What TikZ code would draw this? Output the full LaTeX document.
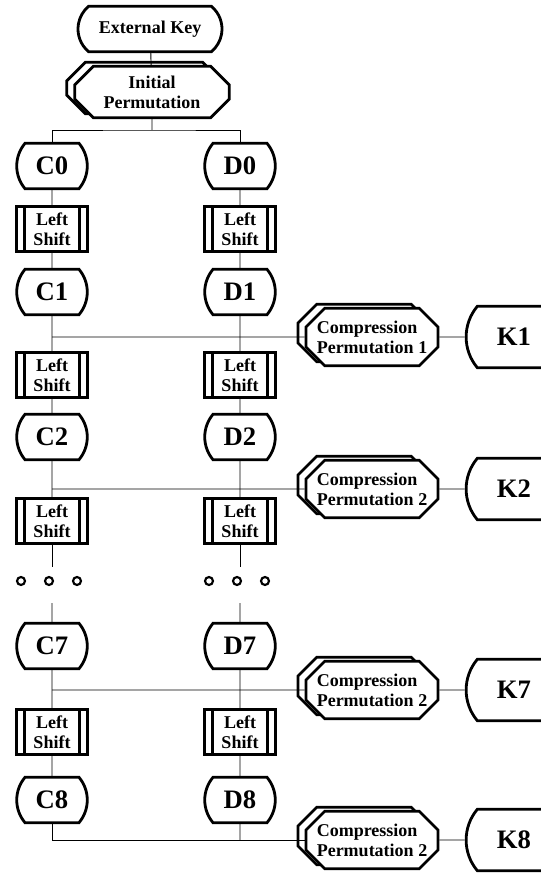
\documentclass[tikz,border=0pt]{standalone}
\usepackage{fontspec}
\setmainfont{Liberation Serif}
\usetikzlibrary{shapes.misc,positioning,calc}

\begin{document}
\begin{tikzpicture}[x=0.75pt,y=-0.75pt,line width=0.7pt]

\tikzset{termnode/.style={shape=rounded rectangle,rounded rectangle arc length=80,draw,line width=2.1pt,font=\fontsize{20}{22}\selectfont\bfseries,inner sep=0pt,minimum width=41pt,minimum height=34pt},
shiftnode/.style={shape=rectangle,draw,line width=2.1pt,font=\fontsize{13.5}{15}\selectfont\bfseries,align=center,inner sep=0pt,minimum width=53pt,minimum height=34pt,
  path picture={\draw[line width=1.9pt] ([xshift=6pt]path picture bounding box.north west) -- ([xshift=6pt]path picture bounding box.south west);
  \draw[line width=1.9pt] ([xshift=-6pt]path picture bounding box.north east) -- ([xshift=-6pt]path picture bounding box.south east);}},
permnode/.style={shape=chamfered rectangle,chamfered rectangle xsep=7pt,chamfered rectangle ysep=7pt,draw,fill=white,line width=2.1pt,font=\fontsize{13.5}{15}\selectfont\bfseries,inner sep=0pt,
  preaction={draw,line width=2.1pt,transform canvas={shift={(-6pt,3pt)}}}},
keynode/.style={termnode,minimum width=57pt,minimum height=46pt},
dotnode/.style={shape=circle,draw,line width=1.6pt,inner sep=0pt,minimum size=6pt}}

\useasboundingbox (0,0) rectangle (541,873);

% External key and initial permutation
\node[termnode,rounded rectangle arc length=100,minimum width=108pt,font=\fontsize{13.5}{15}\selectfont\bfseries] (extkey) at (150,29) {External Key};
\node[permnode,align=center,minimum width=116pt,minimum height=30pt] (initperm) at (152,92) {Initial\\Permutation};
\coordinate (split) at (152,130);

% C and D columns
\foreach \col/\x in {C/52,D/240}{
  \node[termnode] (\col0) at (\x,166) {\col0};
  \node[shiftnode] (ls\col1) at (\x,229) {Left\\Shift};
  \node[termnode] (\col1) at (\x,292) {\col1};
  \node[shiftnode] (ls\col2) at (\x,375) {Left\\Shift};
  \node[termnode] (\col2) at (\x,437) {\col2};
  \node[shiftnode] (ls\col3) at (\x,521) {Left\\Shift};
  \node[dotnode] (dot\col1) at (\x-31,581) {};
  \node[dotnode] (dot\col2) at (\x-3,581) {};
  \node[dotnode] (dot\col3) at (\x+25,581) {};
  \coordinate (gapa\col) at (\x,567);
  \coordinate (gapb\col) at (\x,603);
  \node[termnode] (\col7) at (\x,646) {\col7};
  \node[shiftnode] (ls\col8) at (\x,732) {Left\\Shift};
  \node[termnode] (\col8) at (\x,800) {\col8};
  % chain edges
  \draw (\col0) -- (ls\col1) -- (\col1) -- (ls\col2) -- (\col2) -- (ls\col3);
  \draw (ls\col3) -- (gapa\col); \draw (gapb\col) -- (\col7);
  \draw (\col7) -- (ls\col8) -- (\col8);
}

% Compression permutations and subkeys
\node[permnode,align=left,minimum width=99pt,minimum height=43pt] (comp1) at (372,337) {Compression\\Permutation 1};
\node[keynode,right=19pt of comp1] (K1) {K1};
\node[permnode,align=left,minimum width=99pt,minimum height=43pt] (comp2) at (372,489) {Compression\\Permutation 2};
\node[keynode,right=19pt of comp2] (K2) {K2};
\node[permnode,align=left,minimum width=99pt,minimum height=43pt] (comp3) at (372,690) {Compression\\Permutation 2};
\node[keynode,right=19pt of comp3] (K7) {K7};
\node[permnode,align=left,minimum width=99pt,minimum height=43pt] (comp4) at (372,840) {Compression\\Permutation 2};
\node[keynode,right=19pt of comp4] (K8) {K8};

% Edges
\draw (extkey) -- (initperm); \draw (initperm) -- (split);
\draw (C0) |- (split) -| (D0);
\draw (comp1) -- (comp1 -| C1); \draw (comp1) -- (K1);
\draw (comp2) -- (comp2 -| C2); \draw (comp2) -- (K2);
\draw (comp3) -- (comp3 -| C7); \draw (comp3) -- (K7);
\draw (C8) |- (comp4); \draw (D8) -- (D8 |- comp4); \draw (comp4) -- (K8);

\end{tikzpicture}
\end{document}
